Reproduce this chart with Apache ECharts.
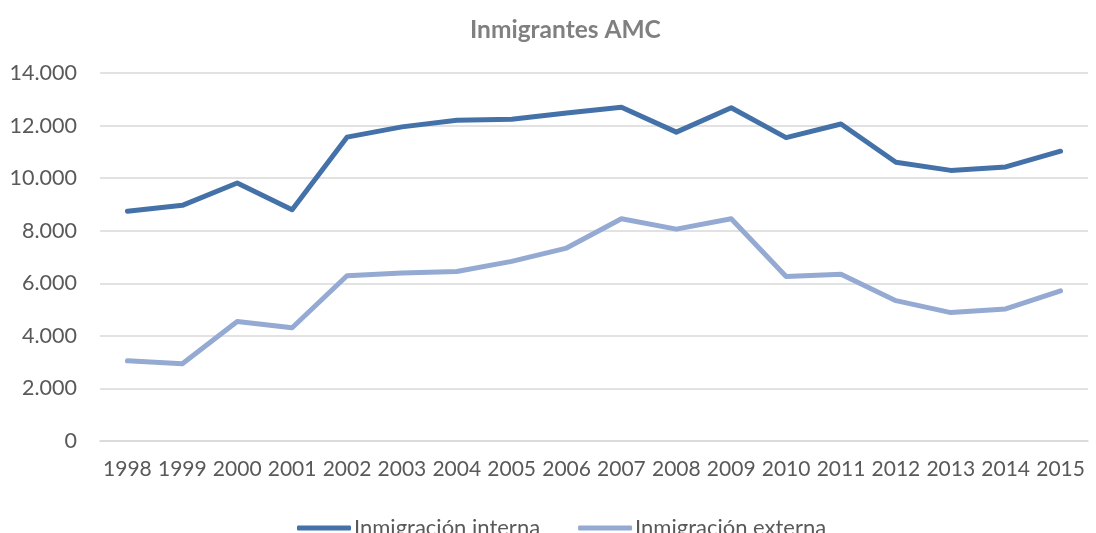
<!DOCTYPE html>
<html>
<head>
<meta charset="utf-8">
<script src="https://cdn.jsdelivr.net/npm/echarts@6/dist/echarts.min.js"></script>
<style>html,body{margin:0;padding:0;background:#fff}#c{width:1096px;height:533px}</style>
</head>
<body>
<div id="c"></div>
<script>
const years = ['1998','1999','2000','2001','2002','2003','2004','2005','2006','2007','2008','2009','2010','2011','2012','2013','2014','2015'];
const interna = [8740, 8965, 9815, 8800, 11560, 11950, 12200, 12240, 12480, 12700, 11750, 12680, 11540, 12060, 10605, 10295, 10425, 11025];
const externa = [3050, 2935, 4545, 4310, 6285, 6390, 6450, 6835, 7340, 8455, 8060, 8455, 6260, 6345, 5340, 4885, 5025, 5715];
const seriesNames = ['Inmigración interna', 'Inmigración externa'];
const titleText = 'Inmigrantes AMC';

const font = 'Lato, "Open Sans", sans-serif';
const chart = echarts.init(document.getElementById('c'), null, {renderer: 'canvas'});
chart.setOption({
  animation: false,
  backgroundColor: '#ffffff',
  title: {
    text: titleText, left: 465, top: 13,
    textStyle: {fontFamily: font, fontSize: 24.5, fontWeight: 'bold', color: '#808080'}
  },
  legend: {
    top: 512, left: 292,
    icon: 'roundRect', itemWidth: 54, itemHeight: 5, itemGap: 38,
    textStyle: {fontFamily: font, fontSize: 22, color: '#595959', padding: [0,0,0,-2]},
    data: seriesNames
  },
  grid: {left: 100, right: 8, top: 73, bottom: 92, containLabel: false},
  xAxis: {
    type: 'category', data: years, boundaryGap: true,
    axisLine: {show: true, lineStyle: {color: '#d9d9d9', width: 1.5}},
    axisTick: {show: false},
    axisLabel: {fontFamily: font, fontSize: 21, color: '#595959', margin: 18, interval: 0, hideOverlap: false}
  },
  yAxis: {
    type: 'value', min: 0, max: 14000, interval: 2000,
    axisLine: {show: false}, axisTick: {show: false},
    splitLine: {lineStyle: {color: '#d9d9d9', width: 1.5}},
    axisLabel: {
      fontFamily: font, fontSize: 21.5, color: '#595959', margin: 23,
      formatter: v => v === 0 ? '0' : String(v).replace(/\B(?=(\d{3})+(?!\d))/g, '.')
    }
  },
  series: [
    {name: seriesNames[0], type: 'line', data: interna, symbol: 'none',
     lineStyle: {color: '#4472a8', width: 5, cap: 'round', join: 'round'}, itemStyle: {color: '#4472a8'}},
    {name: seriesNames[1], type: 'line', data: externa, symbol: 'none',
     lineStyle: {color: '#94aad2', width: 5, cap: 'round', join: 'round'}, itemStyle: {color: '#94aad2'}}
  ]
});
</script>
</body>
</html>
